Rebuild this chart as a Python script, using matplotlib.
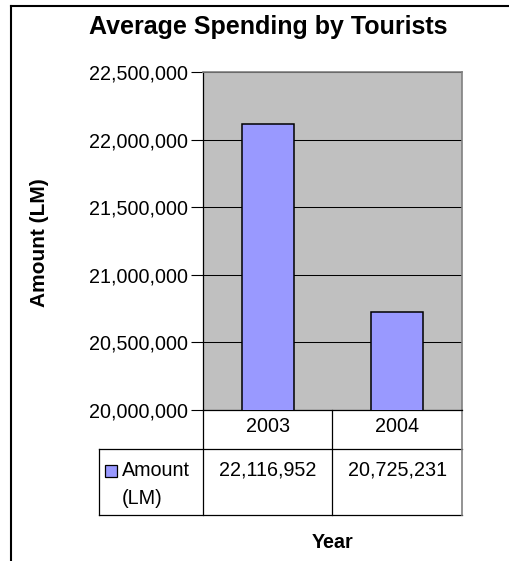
import numpy as np
import matplotlib
matplotlib.use('Agg')
import matplotlib.pyplot as plt
from matplotlib.lines import Line2D
from matplotlib.patches import Rectangle
import matplotlib.transforms as mtransforms
from matplotlib.ticker import FuncFormatter, MultipleLocator

# data
years = ['2003', '2004']
amounts = [22116952, 20725231]
series_name = 'Amount\n(LM)'

plt.rcParams['font.family'] = ['Liberation Sans', 'DejaVu Sans']

W, H = 510, 561
fig = plt.figure(figsize=(W / 100, H / 100), dpi=100)
fig.patch.set_facecolor('white')

# plot area in pixels
px_l, px_r, px_t, px_b = 203, 462, 72, 410
ax = fig.add_axes([px_l / W, 1 - px_b / H, (px_r - px_l) / W, (px_b - px_t) / H])
ax.set_facecolor('#C0C0C0')

x = np.arange(len(years))
ax.bar(x, amounts, width=0.4, color='#9999FF', edgecolor='black', linewidth=1.1, zorder=3)

ax.set_xlim(-0.5, len(years) - 0.5)
ax.set_ylim(20000000, 22500000)
ax.yaxis.set_major_locator(MultipleLocator(500000))
ax.yaxis.set_major_formatter(FuncFormatter(lambda v, p: '{:,.0f}'.format(v)))
ax.grid(axis='y', color='black', linewidth=0.75, zorder=1)
ax.set_xticks([])
ax.tick_params(axis='y', direction='out', length=9, width=0.8, pad=2, labelsize=14.2)

for s in ['top', 'right']:
    ax.spines[s].set_color('#808080')
    ax.spines[s].set_linewidth(1.2)
for s in ['left', 'bottom']:
    ax.spines[s].set_color('black')
    ax.spines[s].set_linewidth(0.9)

# data table under the axis
trans = mtransforms.blended_transform_factory(ax.transData, ax.transAxes)
ph = px_b - px_t
pw = px_r - px_l
row1 = -(449 - px_b) / ph
row2 = -(515 - px_b) / ph
leg_l = (99 - px_l) / pw

def hline(x0, x1, y, color='black', lw=0.9):
    ax.add_line(Line2D([x0, x1], [y, y], transform=ax.transAxes, color=color,
                       lw=lw, clip_on=False))

def vline(xx, y0, y1, color='black', lw=0.9):
    ax.add_line(Line2D([xx, xx], [y0, y1], transform=ax.transAxes, color=color,
                       lw=lw, clip_on=False))

hline(leg_l, 1, row1)
hline(leg_l, 1, row2)
vline(0, 0, row2)
vline(0.5, 0, row2)
vline(1, 0, row2, color='#808080', lw=1.2)
vline(leg_l, row1, row2)

for i, yr in enumerate(years):
    ax.text(i, -(427 - px_b) / ph, yr, transform=trans, ha='center', va='center',
            fontsize=14.2)
    ax.text(i, -(469.5 - px_b) / ph, '{:,}'.format(amounts[i]), transform=trans,
            ha='center', va='center', fontsize=14.2)

# legend key inside the table
ax.add_patch(Rectangle(((105 - px_l) / pw, -(477 - px_b) / ph), 12 / pw, 12 / ph,
                       transform=ax.transAxes, facecolor='#9999FF',
                       edgecolor='black', lw=0.9, clip_on=False))
ax.text((122 - px_l) / pw, -(485 - px_b) / ph, series_name, transform=ax.transAxes,
        ha='left', va='center', fontsize=14.2, linespacing=1.6)

# titles
fig.text(268 / W, 1 - 27 / H, 'Average Spending by Tourists', ha='center', va='center',
         fontsize=18, fontweight='bold')
fig.text(40 / W, 1 - 243 / H, 'Amount (LM)', ha='center', va='center', rotation=90,
         fontsize=15, fontweight='bold')
fig.text(333 / W, 1 - 542 / H, 'Year', ha='center', va='center', fontsize=14.2,
         fontweight='bold')

# chart frame (cut off at right and bottom)
fig.add_artist(Line2D([11 / W, 11 / W], [1 - 6 / H, 0], transform=fig.transFigure,
                      color='black', lw=1.5))
fig.add_artist(Line2D([11 / W, 1], [1 - 6 / H, 1 - 6 / H], transform=fig.transFigure,
                      color='black', lw=1.5))

fig.savefig('out.png', dpi=100)
